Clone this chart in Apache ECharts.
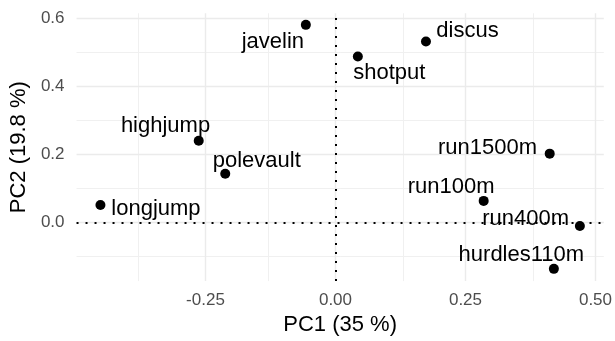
<!DOCTYPE html>
<html>
<head>
<meta charset="utf-8">
<script src="https://cdn.jsdelivr.net/npm/echarts@6/dist/echarts.min.js"></script>
<style>
html,body{margin:0;padding:0;background:#fff;}
#chart{width:615px;height:341px;}
</style>
</head>
<body>
<div id="chart"></div>
<script>
// Variable names
const variables = ['javelin','discus','shotput','highjump','polevault','longjump','run1500m','run100m','run400m','hurdles110m'];
// PC1 loadings
const pc1 = [-0.057, 0.174, 0.043, -0.263, -0.212, -0.452, 0.412, 0.285, 0.470, 0.420];
// PC2 loadings
const pc2 = [0.581, 0.532, 0.488, 0.240, 0.143, 0.051, 0.202, 0.063, -0.011, -0.137];
// Tick values and labels
const xTicks = [-0.25, 0, 0.25, 0.5];
const xTickLabels = ['-0.25', '0.00', '0.25', '0.50'];
const xMinor = [-0.375, -0.125, 0.125, 0.375];
const yTicks = [0, 0.2, 0.4, 0.6];
const yTickLabels = ['0.0', '0.2', '0.4', '0.6'];
const yMinor = [-0.1, 0.1, 0.3, 0.5];

// label layout (pixel offsets from each point, repelled-label style)
const labelOffsets = [[-33,17.5],[41.5,-10.5],[31.5,16.6],[-33.2,-15.2],[31.5,-13.2],[55.5,4.2],[-62.2,-5.8],[-32.5,-13.5],[-54.3,-6.8],[-32.5,-14.3]];

const FONT = '"Liberation Sans", Arial, Helvetica, sans-serif';
const chart = echarts.init(document.getElementById('chart'), null, {renderer:'canvas'});

const gridLines = [];
xMinor.forEach(v => gridLines.push({xAxis: v, lineStyle:{color:'#f0f0f0', width:1, type:'solid'}}));
yMinor.forEach(v => gridLines.push({yAxis: v, lineStyle:{color:'#f0f0f0', width:1, type:'solid'}}));
xTicks.forEach(v => gridLines.push({xAxis: v, lineStyle:{color:'#ebebeb', width:1.4, type:'solid'}}));
yTicks.forEach(v => gridLines.push({yAxis: v, lineStyle:{color:'#ebebeb', width:1.4, type:'solid'}}));

const data = variables.map((n,i) => ({name: n, value: [pc1[i], pc2[i]]}));

chart.setOption({
  animation: false,
  backgroundColor: '#ffffff',
  grid: {left: 76, right: 10, top: 13.3, bottom: 58.3, containLabel: false},
  xAxis: {
    type: 'value', min: -0.498, max: 0.516,
    axisLine: {show:false}, axisTick: {show:false}, splitLine: {show:false},
    axisLabel: {customValues: xTicks, formatter: v => xTickLabels[xTicks.findIndex(t => Math.abs(t - v) < 1e-9)] ?? '',
      color:'#4d4d4d', fontSize:17, fontFamily: FONT, margin: 11},
    name: 'PC1 (35 %)', nameLocation: 'middle', nameGap: 27,
    nameTextStyle: {color:'#000', fontSize:22, fontFamily: FONT}
  },
  yAxis: {
    type: 'value', min: -0.173, max: 0.615,
    axisLine: {show:false}, axisTick: {show:false}, splitLine: {show:false},
    axisLabel: {customValues: yTicks, formatter: v => yTickLabels[yTicks.findIndex(t => Math.abs(t - v) < 1e-9)] ?? '',
      color:'#4d4d4d', fontSize:17, fontFamily: FONT, margin: 12},
    name: 'PC2 (19.8 %)', nameLocation: 'middle', nameGap: 39,
    nameTextStyle: {color:'#000', fontSize:22, fontFamily: FONT}
  },
  series: [
    {
      type: 'line', data: [], silent: true, z: 1,
      markLine: {silent: true, z: 1, symbol: ['none','none'], label: {show:false}, animation:false,
        data: gridLines}
    },
    {
      type: 'line', data: [], silent: true, z: 2,
      markLine: {silent: true, z: 2, symbol: ['none','none'], label: {show:false}, animation:false,
        lineStyle: {color:'#000', width:2, type:[2,7]},
        data: [{xAxis: 0}, {yAxis: 0}]}
    },
    {
      type: 'scatter', z: 10,
      symbol: 'circle', symbolSize: 10,
      itemStyle: {color:'#000', opacity: 1},
      label: {show: true, position: 'inside', formatter: p => p.name,
        color:'#000', fontSize:22, fontFamily: FONT, align:'center', verticalAlign:'middle',
        textBorderWidth: 0, textBorderColor: 'transparent'},
      labelLayout: p => ({dx: labelOffsets[p.dataIndex][0], dy: labelOffsets[p.dataIndex][1], hideOverlap: false}),
      emphasis: {disabled: true},
      data: data
    }
  ]
});
</script>
</body>
</html>
